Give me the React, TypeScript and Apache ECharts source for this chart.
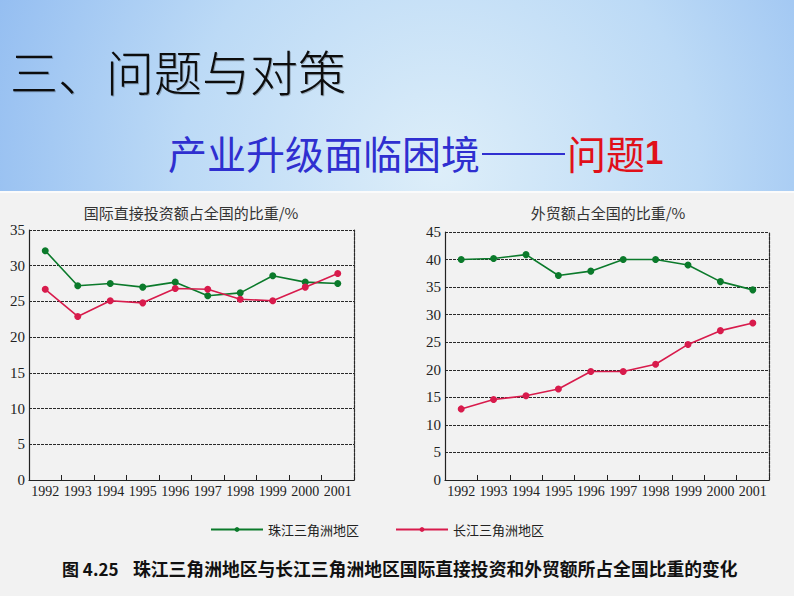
import React, { useEffect, useRef } from "react";
import * as echarts from "echarts";

const years = ["1992", "1993", "1994", "1995", "1996", "1997", "1998", "1999", "2000", "2001"];
const fdiPearl = [32.1, 27.2, 27.5, 27.0, 27.7, 25.8, 26.2, 28.6, 27.7, 27.5];
const fdiYangtze = [26.7, 22.9, 25.1, 24.8, 26.8, 26.7, 25.3, 25.1, 27.0, 28.9];
const tradePearl = [40.0, 40.2, 40.9, 37.1, 37.9, 40.0, 40.0, 39.0, 36.0, 34.5];
const tradeYangtze = [12.9, 14.6, 15.3, 16.5, 19.7, 19.7, 21.0, 24.6, 27.1, 28.5];
const seriesNames = ["珠江三角洲地区", "长江三角洲地区"];
const leftTitle = "国际直接投资额占全国的比重/%";
const rightTitle = "外贸额占全国的比重/%";

const GREEN = "#0b7a2b";
const RED = "#d81b4c";
const SERIF = "'Liberation Serif', 'DejaVu Serif', serif";
const CJK = "'Noto Sans CJK SC', 'Noto Sans', sans-serif";

export default function App() {
  const ref = useRef<HTMLDivElement>(null);
  useEffect(() => {
    if (!ref.current) return;
    const chart = echarts.init(ref.current, undefined, { renderer: "svg" });
    const gridLine = { show: true, lineStyle: { color: "#2a2a2a", type: [3, 1] as any, width: 1.2 } };
    const mkX = (gridIndex: number) => ({
      type: "category",
      gridIndex,
      data: years,
      boundaryGap: true,
      axisLine: { show: true, lineStyle: { color: "#222", width: 1.2 } },
      axisTick: { show: true, inside: true, length: 5, lineStyle: { color: "#222" } },
      axisLabel: { color: "#222", fontFamily: SERIF, fontSize: 14, margin: 4, interval: 0 },
      splitLine: { show: false },
    });
    const mkY = (gridIndex: number, max: number) => ({
      type: "value",
      gridIndex,
      min: 0,
      max,
      interval: 5,
      axisLine: { show: true, lineStyle: { color: "#222", width: 1.2 } },
      axisTick: { show: false },
      axisLabel: { color: "#222", fontFamily: SERIF, fontSize: 15, margin: 4 },
      splitLine: gridLine,
    });
    const mkBorder = (gridIndex: number, max: number) => ({
      type: "value",
      gridIndex,
      position: "right",
      min: 0,
      max,
      interval: 5,
      axisLine: { show: true, lineStyle: { color: "#2a2a2a", type: [3, 1] as any, width: 1.2 } },
      axisTick: { show: false },
      axisLabel: { show: false },
      splitLine: { show: false },
    });
    const mkSeries = (name: string, data: number[], color: string, xi: number, yi: number) => ({
      type: "line",
      name,
      data,
      xAxisIndex: xi,
      yAxisIndex: yi,
      symbol: "circle",
      symbolSize: 7,
      lineStyle: { color, width: 1.6 },
      itemStyle: { color },
      z: 3,
    });
    chart.setOption({
      animation: false,
      backgroundColor: "#f2f2f2",
      grid: [
        { left: 29, top: 230, width: 325, height: 250 },
        { left: 445, top: 232, width: 324, height: 248 },
      ],
      xAxis: [mkX(0), mkX(1)],
      yAxis: [mkY(0, 35), mkY(1, 45), mkBorder(0, 35), mkBorder(1, 45)],
      legend: {
        left: 210,
        top: 523,
        padding: 0,
        itemWidth: 52,
        itemHeight: 6,
        itemGap: 36,
        data: seriesNames,
        textStyle: { color: "#222", fontFamily: CJK, fontSize: 13 },
      },
      series: [
        mkSeries(seriesNames[0], fdiPearl, GREEN, 0, 0),
        mkSeries(seriesNames[1], fdiYangtze, RED, 0, 0),
        mkSeries(seriesNames[0], tradePearl, GREEN, 1, 1),
        mkSeries(seriesNames[1], tradeYangtze, RED, 1, 1),
      ],
      graphic: [
        {
          type: "rect",
          z: -10,
          silent: true,
          shape: { x: 0, y: 0, width: 794, height: 191 },
          style: {
            fill: {
              type: "radial",
              x: 440,
              y: 170,
              r: 520,
              global: true,
              colorStops: [
                { offset: 0, color: "#ddeef9" },
                { offset: 0.5, color: "#bcdaf6" },
                { offset: 1, color: "#8cb8f0" },
              ],
            } as any,
          },
        },
        {
          type: "rect",
          z: -9,
          silent: true,
          shape: { x: 0, y: 191, width: 794, height: 2 },
          style: { fill: "#fbfbfb" },
        },
        {
          type: "text",
          left: 10,
          top: 46,
          style: {
            text: "三、问题与对策",
            fontFamily: CJK,
            fontSize: 48,
            fontWeight: 300,
            fill: "#0a0a0a",
            textShadowColor: "rgba(0,0,0,0.25)",
            textShadowBlur: 1,
            textShadowOffsetX: 1,
            textShadowOffsetY: 1,
          },
        },
        {
          type: "text",
          x: 168,
          y: 152,
          style: {
            text: "产业升级面临困境",
            fontFamily: CJK,
            fontSize: 39,
            fill: "#2f2fd0",
            verticalAlign: "middle",
          },
        },
        {
          type: "rect",
          silent: true,
          shape: { x: 482, y: 153, width: 83, height: 2 },
          style: { fill: "#2f2fd0" },
        },
        {
          type: "text",
          x: 567,
          y: 152,
          style: {
            text: "{r|问题}{rb|1}",
            verticalAlign: "middle",
            rich: {
              r: { fontFamily: CJK, fontSize: 39, fill: "#e0101a" },
              rb: { fontFamily: "'Liberation Sans', Arial, sans-serif", fontWeight: "bold", fontSize: 33, fill: "#e0101a" },
            },
          },
        },
        {
          type: "text",
          x: 191,
          y: 212,
          style: { text: leftTitle, fontFamily: CJK, fontSize: 15, fill: "#333", align: "center", verticalAlign: "middle" },
        },
        {
          type: "text",
          x: 608,
          y: 212,
          style: { text: rightTitle, fontFamily: CJK, fontSize: 15, fill: "#333", align: "center", verticalAlign: "middle" },
        },
        {
          type: "text",
          x: 62,
          y: 568,
          style: { text: "图 4.25", fontFamily: CJK, fontWeight: "bold", fontSize: 17, fill: "#111", verticalAlign: "middle" },
        },
        {
          type: "text",
          x: 133,
          y: 568,
          style: {
            text: "珠江三角洲地区与长江三角洲地区国际直接投资和外贸额所占全国比重的变化",
            fontFamily: CJK,
            fontWeight: "bold",
            fontSize: 17.8,
            fill: "#111",
            verticalAlign: "middle",
          },
        },
      ],
    });
    return () => chart.dispose();
  }, []);
  return (
    <div style={{ position: "fixed", left: 0, top: 0, width: 794, height: 596 }}>
      <div ref={ref} style={{ width: 794, height: 596 }} />
    </div>
  );
}
